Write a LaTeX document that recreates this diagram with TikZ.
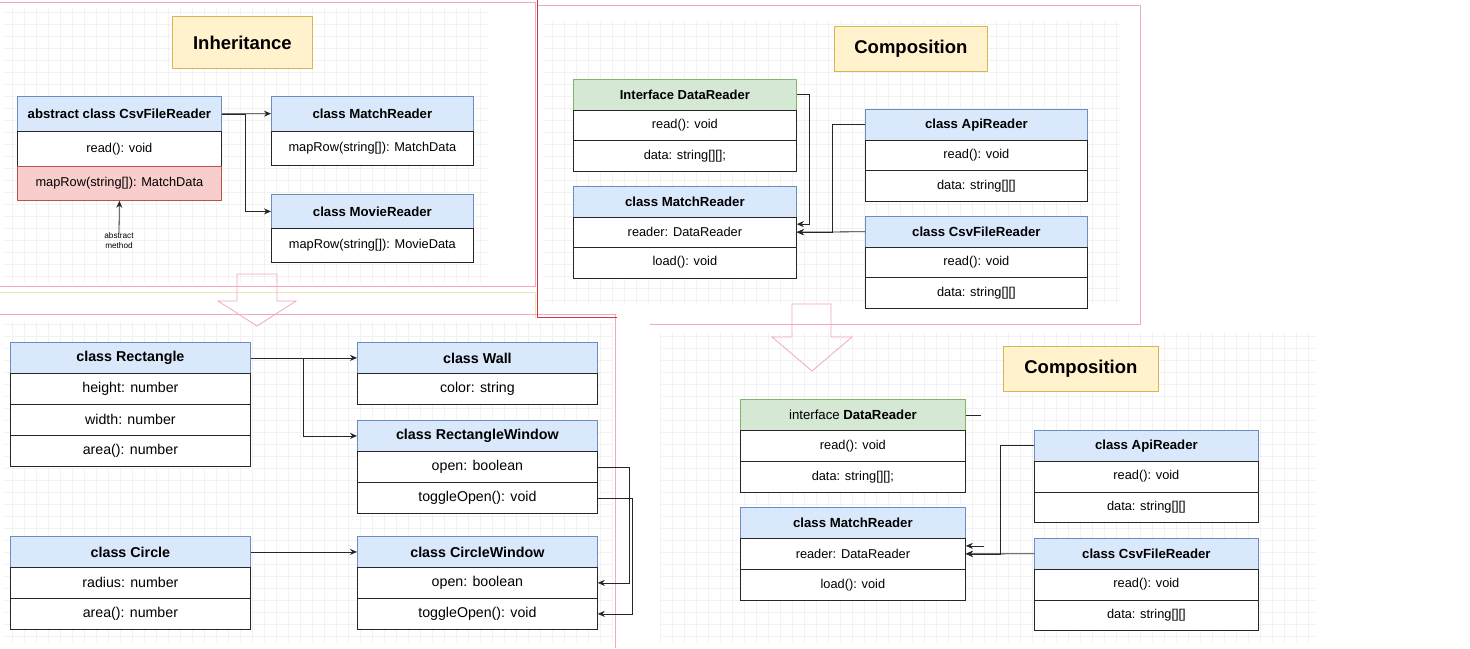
\documentclass[tikz,border=0pt]{standalone}
\usepackage{fontspec}
\setmainfont{Liberation Sans}
\usetikzlibrary{arrows.meta,calc}

\definecolor{hdrfill}{HTML}{DAE8FC}
\definecolor{hdrline}{HTML}{6C8EBF}
\definecolor{greenfill}{HTML}{D5E8D4}
\definecolor{greenline}{HTML}{82B366}
\definecolor{redfill}{HTML}{F8CECC}
\definecolor{redline}{HTML}{B85450}
\definecolor{titlefill}{HTML}{FFF2CC}
\definecolor{titleline}{HTML}{D6B656}
\definecolor{framepink}{HTML}{F2A7C3}
\definecolor{framered}{HTML}{D03A3A}
\definecolor{frameyellow}{HTML}{EEE2B8}

\tikzset{
  hdrbase/.style={rectangle, inner sep=0pt, line width=0.8pt, anchor=north west},
  hdrA/.style={hdrbase, fill=hdrfill, draw=hdrline, font=\bfseries\fontsize{13.2}{15}\selectfont},
  hdrB/.style={hdrbase, fill=hdrfill, draw=hdrline, font=\bfseries\fontsize{14.3}{16}\selectfont},
  greenA/.style={hdrbase, fill=greenfill, draw=greenline, font=\bfseries\fontsize{13}{15}\selectfont},
  greenB/.style={hdrbase, fill=greenfill, draw=greenline, font=\fontsize{13.2}{15}\selectfont},
  rowA/.style={hdrbase, fill=white, draw=black!85, font=\fontsize{12.8}{15}\selectfont},
  rowB/.style={hdrbase, fill=white, draw=black!85, font=\fontsize{14.2}{16}\selectfont},
  titlebox/.style={rectangle, inner sep=0pt, anchor=north west, fill=titlefill, draw=titleline, line width=0.8pt, font=\bfseries\fontsize{18.5}{20}\selectfont},
  conn/.style={-{Stealth[length=7pt,width=6pt]}, line width=0.8pt, draw=black!85},
  plainline/.style={line width=0.8pt, draw=black!85},
  notefont/.style={align=center, font=\fontsize{8.2}{10}\selectfont, inner sep=0pt},
  pinkline/.style={draw=framepink, line width=0.9pt},
  redframe/.style={draw=framered, line width=1pt},
  yellowline/.style={draw=frameyellow, line width=0.9pt},
  hollowarrow/.style={draw=framepink, line width=0.8pt, line join=miter},
  gridlines/.style={draw=black!5, line width=0.3pt, step=12pt},
}

% #1 name #2 x #3 y #4 w #5 h #6 header style #7 row style #8 header text #9 rows
\newcommand\classbox[9]{%
  \node[#6, minimum width=#4pt, minimum height=#5pt] (#1) at (#2,#3) {#8};
  \foreach \rowtext [count=\i] in {#9}{%
    \node[#7, minimum width=#4pt, minimum height=#5pt] (#1-\i) at (#2,{#3+#5*\i}) {\rowtext};
  }%
}

\begin{document}
\begin{tikzpicture}[x=1pt, y=-1pt]
\useasboundingbox (0,0) rectangle (1470,648);
\fill[white] (0,0) rectangle (1470,648);

% faint grids
\draw[gridlines] (4,8) grid (488,282);
\draw[gridlines] (545,22) grid (1120,304);
\draw[gridlines] (4,322) grid (612,642);
\draw[gridlines] (660,332) grid (1316,642);

% panel frames
\draw[pinkline] (0,2) -- (535,2) -- (535,286) -- (0,286);
\draw[yellowline] (0,292) -- (535,292) -- (535,318);
\draw[pinkline] (537,5) -- (1140,5) -- (1140,324) -- (650,324);
\draw[pinkline] (0,314) -- (615,314) -- (615,648);
\draw[redframe] (537,0) -- (537,317) -- (617,317);

% ---------------- Inheritance ----------------
\node[titlebox, minimum width=140pt, minimum height=52pt] (t1) at (172,16) {Inheritance};

\node[hdrA, minimum width=204pt, minimum height=35pt] (csv) at (17,96) {abstract class CsvFileReader};
\node[rowA, minimum width=204pt, minimum height=35pt] (csv-1) at (17,131) {read(): void};
\node[rowA, minimum width=204pt, minimum height=34pt, fill=redfill, draw=redline] (csv-2) at (17,166) {mapRow(string[]): MatchData};

\classbox{mr}{271}{96}{202}{34.5}{hdrA}{rowA}{class MatchReader}{mapRow(string[]): MatchData}
\classbox{mv}{271}{194}{202}{34}{hdrA}{rowA}{class MovieReader}{mapRow(string[]): MovieData}

\draw[conn] (csv.east) -- (mr.west);
\draw[conn] (csv.east) -- ++(24,0) |- (mv.west);

\node[notefont] (am) at (119,241) {abstract\\method};
\draw[conn] (am.north) -- (csv-2.south);

% ---------------- Composition (top) ----------------
\node[titlebox, minimum width=153pt, minimum height=45pt] (t2) at (834,26) {Composition};

\classbox{tdr}{573}{79}{223}{30.7}{greenA}{rowA}{Interface DataReader}{read(): void, data: string[][];}
\classbox{tmr}{573}{186}{223}{30.5}{hdrA}{rowA}{class MatchReader}{reader: DataReader, load(): void}
\classbox{tapi}{865}{109}{222}{30.7}{hdrA}{rowA}{class ApiReader}{read(): void, data: string[][]}
\classbox{tcsv}{865}{216}{222}{30.7}{hdrA}{rowA}{class CsvFileReader}{read(): void, data: string[][]}

\draw[conn] (tdr.east) -- ++(13,0) |- ([yshift=8pt]tmr-1.east);
\draw[conn] (tapi.west) -- ++(-33,0) |- (tmr-1.east);
\draw[conn] (tcsv.west) -- (tmr-1.east);

% hollow arrows
\draw[hollowarrow] (237,274) -- (237,301) -- (218,301) -- (257,326) -- (296,301) -- (277,301) -- (277,274) -- cycle;
\draw[hollowarrow] (792,304) -- (792,337) -- (772,337) -- (812,371) -- (852,337) -- (831,337) -- (831,304) -- cycle;

% ---------------- Bottom left ----------------
\classbox{rect}{10}{342}{240}{31}{hdrB}{rowB}{class Rectangle}{height: number, width: number, area(): number}
\classbox{wall}{357}{342}{240}{31}{hdrB}{rowB}{class Wall}{color: string}
\classbox{rw}{357}{420}{240}{31}{hdrB}{rowB}{class RectangleWindow}{open: boolean, toggleOpen(): void}
\classbox{circ}{10}{536}{240}{31}{hdrB}{rowB}{class Circle}{radius: number, area(): number}
\classbox{cw}{357}{536}{240}{31}{hdrB}{rowB}{class CircleWindow}{open: boolean, toggleOpen(): void}

\draw[conn] (rect.east) -- (wall.west);
\draw[conn] (rect.east) -- ++(53,0) |- (rw.west);
\draw[conn] (circ.east) -- (cw.west);
\draw[conn] (rw-1.east) -- ++(32,0) |- (cw-1.east);
\draw[conn] (rw-2.east) -- ++(35,0) |- (cw-2.east);

% ---------------- Composition (bottom) ----------------
\node[titlebox, minimum width=155pt, minimum height=45pt] (t3) at (1003,346) {Composition};

\classbox{bdr}{740}{399}{225}{31}{greenB}{rowA}{interface \textbf{DataReader}}{read(): void, data: string[][];}
\classbox{bmr}{740}{507}{225}{31}{hdrA}{rowA}{class MatchReader}{reader: DataReader, load(): void}
\classbox{bapi}{1034}{430}{224}{30.8}{hdrA}{rowA}{class ApiReader}{read(): void, data: string[][]}
\classbox{bcsv}{1034}{538}{224}{30.8}{hdrA}{rowA}{class CsvFileReader}{read(): void, data: string[][]}

\draw[plainline] (bdr.east) -- ++(15,0);
\draw[conn] ([shift={(18pt,8pt)}]bmr-1.east) -- ([yshift=8pt]bmr-1.east);
\draw[conn] (bapi.west) -- ++(-34,0) |- (bmr-1.east);
\draw[conn] (bcsv.west) -- (bmr-1.east);
\end{tikzpicture}
\end{document}
